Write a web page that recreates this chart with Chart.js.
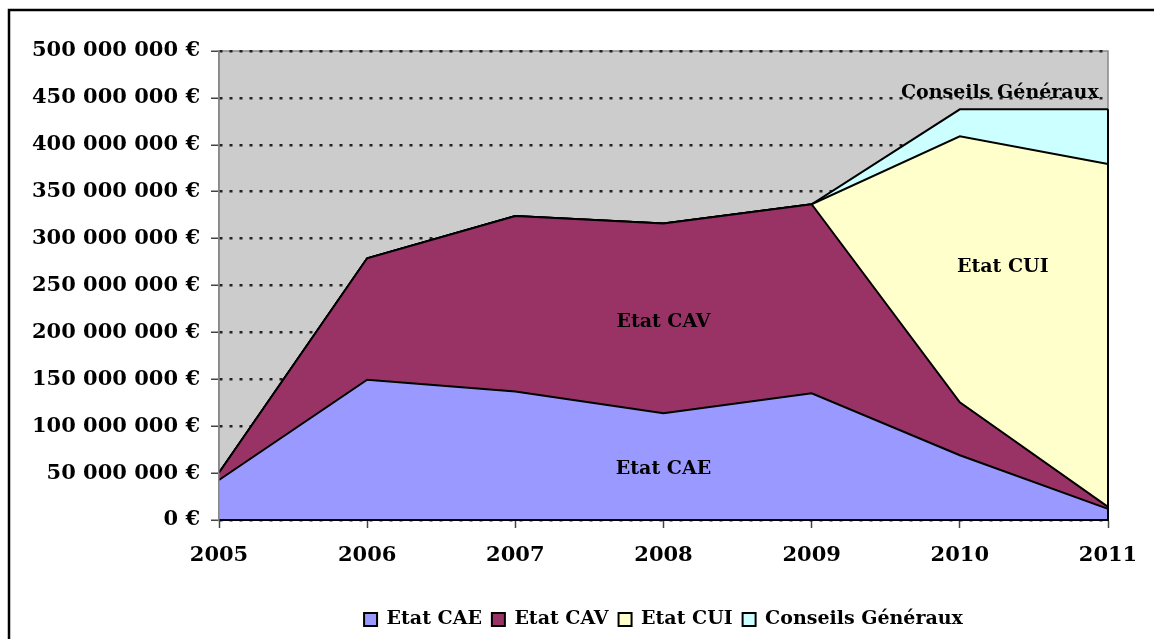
<!DOCTYPE html>
<html>
<head>
<meta charset="utf-8">
<script src="https://cdn.jsdelivr.net/npm/chart.js@4.4.1/dist/chart.umd.min.js"></script>
<style>
  html, body { margin: 0; padding: 0; background: #fff; }
  #wrap { width: 1154px; height: 639px; }
</style>
</head>
<body>
<div id="wrap"><canvas id="myChart"></canvas></div>
<script>
// data (euros)
var years = ["2005", "2006", "2007", "2008", "2009", "2010", "2011"];
var etatCAE = [42600000, 149500000, 137000000, 113700000, 135000000, 69000000, 11800000];
var etatCAV = [7800000, 129500000, 187000000, 202300000, 201600000, 56500000, 2200000];
var etatCUI = [0, 0, 0, 0, 0, 283500000, 365500000];
var conseilsGeneraux = [0, 0, 0, 0, 0, 28800000, 58300000];
var yTicks = [0, 50000000, 100000000, 150000000, 200000000, 250000000, 300000000, 350000000, 400000000, 450000000, 500000000];

var seriesNames = ["Etat CAE", "Etat CAV", "Etat CUI", "Conseils Généraux"];
var seriesColors = ["#9999FF", "#993366", "#FFFFCC", "#CCFFFF"];

// where the in-area labels sit (x as category index, y as value)
var areaLabels = [
  { text: "Etat CAE", x: 3, y: 54000000 },
  { text: "Etat CAV", x: 3, y: 211000000 },
  { text: "Etat CUI", x: 5.29, y: 270000000 },
  { text: "Conseils Généraux", x: 5.27, y: 455000000 }
];

function euro(v) {
  return String(v).replace(/\B(?=(\d{3})+(?!\d))/g, " ") + " €";
}

Chart.defaults.font.family = "'DejaVu Serif', serif";
Chart.defaults.font.weight = "bold";
Chart.defaults.color = "#000";

var framePlugin = {
  id: 'frame',
  beforeDraw: function(chart) {
    var ctx = chart.ctx, a = chart.chartArea;
    ctx.save();
    ctx.fillStyle = '#fff';
    ctx.fillRect(0, 0, chart.width, chart.height);
    ctx.fillStyle = '#cccccc';
    ctx.fillRect(a.left, a.top, a.right - a.left, a.bottom - a.top);
    ctx.strokeStyle = '#888';
    ctx.lineWidth = 1.5;
    ctx.strokeRect(a.left, a.top, a.right - a.left, a.bottom - a.top);
    ctx.strokeStyle = '#000';
    ctx.lineWidth = 2.5;
    ctx.strokeRect(9, 10, chart.width + 20, chart.height + 20);
    ctx.restore();
  },
  afterDatasetsDraw: function(chart) {
    var ctx = chart.ctx, a = chart.chartArea;
    var xs = chart.scales.x, ys = chart.scales.y;
    ctx.save();
    // right edge of the stacked areas + bottom axis line
    var top = chart.getDatasetMeta(3).data[years.length - 1];
    ctx.strokeStyle = '#000';
    ctx.lineWidth = 2;
    ctx.beginPath();
    ctx.moveTo(a.right, top.y);
    ctx.lineTo(a.right, a.bottom);
    ctx.moveTo(a.left, a.bottom);
    ctx.lineTo(a.right, a.bottom);
    ctx.stroke();
    // labels inside the areas
    ctx.font = "bold 19px 'DejaVu Serif', serif";
    ctx.fillStyle = '#000';
    ctx.textAlign = 'center';
    ctx.textBaseline = 'middle';
    areaLabels.forEach(function(l) {
      var i = Math.floor(l.x), f = l.x - i;
      var px = xs.getPixelForValue(i);
      if (f > 0) px += f * (xs.getPixelForValue(i + 1) - px);
      ctx.fillText(l.text, px, ys.getPixelForValue(l.y));
    });
    ctx.restore();
  }
};

var allSeries = [etatCAE, etatCAV, etatCUI, conseilsGeneraux];

var ctx = document.getElementById('myChart').getContext('2d');
var chart = new Chart(ctx, {
  type: 'line',
  data: {
    labels: years,
    datasets: allSeries.map(function(d, i) {
      return {
        label: seriesNames[i],
        data: d,
        backgroundColor: seriesColors[i],
        borderColor: '#000',
        borderWidth: 2,
        pointRadius: 0,
        tension: 0,
        fill: i === 0 ? 'origin' : '-1'
      };
    })
  },
  options: {
    responsive: true,
    maintainAspectRatio: false,
    animation: false,
    layout: { padding: { top: 51, right: 46, left: 0, bottom: 0 } },
    plugins: {
      legend: {
        position: 'bottom',
        fullSize: false,
        labels: {
          boxWidth: 13,
          boxHeight: 13,
          padding: 10,
          font: { size: 19, weight: 'bold' },
          color: '#000'
        }
      },
      tooltip: { enabled: false },
      filler: { propagate: false }
    },
    scales: {
      x: {
        offset: false,
        grid: {
          drawOnChartArea: false,
          tickLength: 8,
          tickColor: '#444',
          tickWidth: 1.5,
          offset: false
        },
        border: { color: '#000', width: 2, z: 1 },
        ticks: { font: { size: 21, weight: 'bold' }, padding: 15, maxRotation: 0 },
        afterFit: function(s) { s.height = 80; }
      },
      y: {
        stacked: true,
        min: 0,
        max: 500000000,
        afterBuildTicks: function(s) { s.ticks = yTicks.map(function(v) { return { value: v }; }); },
        grid: {
          color: '#222',
          lineWidth: 2.5,
          tickLength: 8,
          tickColor: '#444',
          tickWidth: 1.5,
          tickBorderDash: []
        },
        border: { color: '#888', width: 1.5, dash: [3, 7], z: 1 },
        ticks: {
          font: { size: 21, weight: 'bold' },
          padding: 11,
          callback: function(v) { return euro(v); }
        },
        afterFit: function(s) { s.width = 219; }
      }
    }
  },
  plugins: [framePlugin]
});
</script>
</body>
</html>
